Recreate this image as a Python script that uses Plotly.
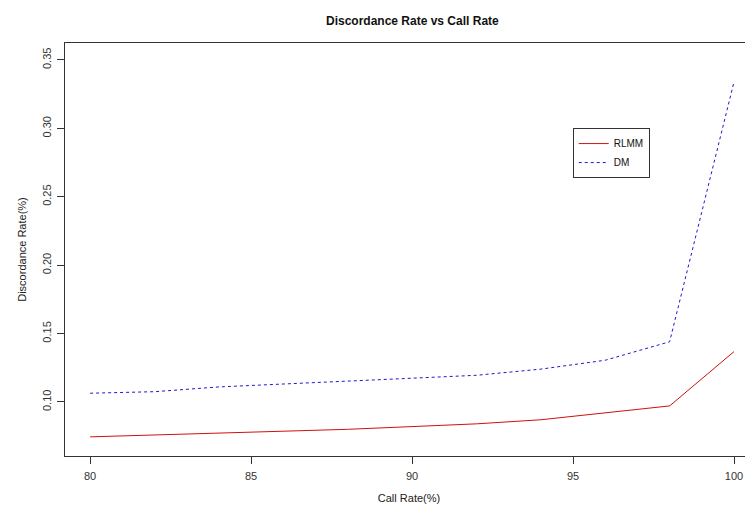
import plotly.graph_objects as go

call_rate = [80, 82, 84, 86, 88, 90, 92, 94, 96, 98, 100]
rlmm = [0.0745, 0.0758, 0.0770, 0.0785, 0.0800, 0.0820, 0.0840, 0.0870, 0.0920, 0.0971, 0.1368]
dm = [0.1064, 0.1075, 0.1110, 0.1130, 0.1155, 0.1170, 0.1195, 0.1240, 0.1305, 0.1440, 0.3340]

x_ticks = [80, 85, 90, 95, 100]
y_ticks = [0.10, 0.15, 0.20, 0.25, 0.30, 0.35]
y_tick_labels = ["0.10", "0.15", "0.20", "0.25", "0.30", "0.35"]

font_family = "Liberation Sans, Arial, sans-serif"

fig = go.Figure()
fig.add_trace(go.Scatter(x=call_rate, y=rlmm, mode="lines", name="RLMM",
                         line=dict(color="#d01010", width=1)))
fig.add_trace(go.Scatter(x=call_rate, y=dm, mode="lines", name="DM",
                         line=dict(color="#1a1acc", width=1, dash="3px,3px")))

fig.update_layout(
    width=753, height=514,
    margin=dict(l=57, r=8, t=35, b=66, autoexpand=False),
    paper_bgcolor="white", plot_bgcolor="white",
    font=dict(family=font_family, size=11, color="#222"),
    title=dict(text="<b>Discordance Rate vs Call Rate</b>", x=0.537, xanchor="center",
               y=0.975, yanchor="middle", font=dict(size=12, color="#111")),
    showlegend=True,
    legend=dict(x=0.738, y=0.794, xanchor="left", yanchor="top",
                bgcolor="white", bordercolor="#333", borderwidth=1,
                font=dict(size=10, color="#111"), tracegroupgap=0,
                itemwidth=30),
)
fig.update_xaxes(range=[79.22, 100.59], tickvals=x_ticks, ticks="outside", ticklen=7,
                 showline=True, linecolor="#333", linewidth=1, mirror=True,
                 showgrid=False, zeroline=False, tickcolor="#333", automargin=False,
                 ticklabelstandoff=3,
                 title=dict(text="Call Rate(%)", standoff=13, font=dict(size=11)),
                 tickfont=dict(size=11, color="#333"))
fig.update_yaxes(range=[0.0605, 0.3624], tickvals=y_ticks, ticktext=y_tick_labels,
                 ticks="outside", ticklen=7, tickangle=-90,
                 showline=True, linecolor="#333", linewidth=1,
                 showgrid=False, zeroline=False, tickcolor="#333", automargin=False,
                 ticklabelstandoff=2,
                 title=dict(text="Discordance Rate(%)", standoff=11, font=dict(size=11)),
                 tickfont=dict(size=11, color="#333"))

fig.write_html("out.html")
